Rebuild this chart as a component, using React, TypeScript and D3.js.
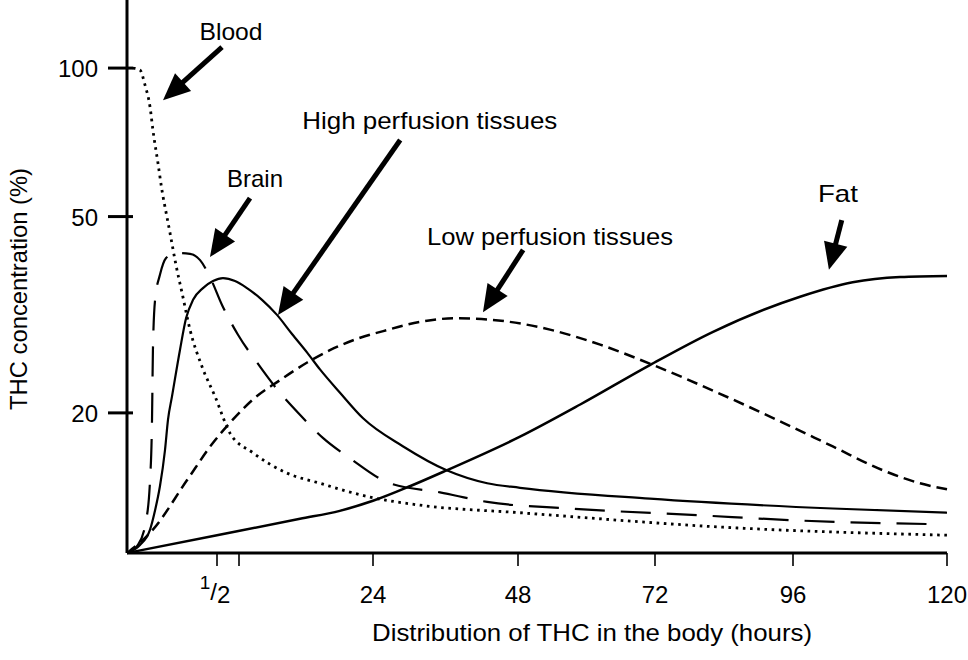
import React from 'react'
import * as d3 from 'd3'

// ---- data (hours, % of peak) ----
const xBreaks = [0, 0.5, 1, 24, 48, 72, 96, 120]
const xTicks = [0.5, 1, 24, 48, 72, 96, 120]
const xTickLabels = ['1/2', '', '24', '48', '72', '96', '120']
const yTicks = [20, 50, 100]
const yTickLabels = ['20', '50', '100']

const blood: [number, number][] = [
  [0.033, 100], [0.072, 99.1], [0.1, 92.4], [0.128, 83.4], [0.144, 74.9],
  [0.172, 64.2], [0.194, 56.6], [0.222, 49.9], [0.239, 46.3], [0.272, 39.9],
  [0.306, 35.0], [0.35, 29.5], [0.417, 24.8], [0.489, 21.6], [0.795, 18.2],
  [3.4, 16.6], [9.24, 15.1], [14.9, 14.4], [23.5, 13.5], [31.8, 13.0],
  [48.35, 12.55], [85.6, 11.7], [120, 11.3],
]

const brain: [number, number][] = [
  [0, 10.4], [0.061, 10.8], [0.106, 12.1], [0.128, 14.6], [0.139, 19.4],
  [0.144, 26.8], [0.156, 33.9], [0.183, 38.1], [0.217, 41.2], [0.267, 42.2],
  [0.35, 42.0], [0.406, 40.8], [0.461, 37.7], [0.614, 33.1], [0.977, 28.8],
  [4.09, 25.3], [7.18, 22.6], [11.5, 19.8], [15.4, 17.8], [20.0, 16.2],
  [26.8, 14.4], [35.1, 13.8], [42.9, 13.2], [57.1, 12.8], [79.8, 12.4],
  [97.1, 12.1], [117.8, 11.9],
]

const highPerfusion: [number, number][] = [
  [0, 10.4], [0.072, 10.8], [0.128, 11.6], [0.156, 12.7], [0.183, 14.2],
  [0.211, 16.8], [0.228, 19.4], [0.25, 21.6], [0.294, 26.8], [0.328, 31.1],
  [0.367, 33.9], [0.422, 35.8], [0.478, 37.0], [0.636, 37.5], [0.909, 37.0],
  [2.37, 35.8], [4.95, 33.9], [7.52, 31.6], [10.1, 28.9], [12.7, 26.5],
  [14.9, 24.5], [18.3, 22.0], [22.3, 19.5], [29.0, 17.1], [36.2, 15.3],
  [42.9, 14.4], [48.35, 14.1], [71.1, 13.4], [102.2, 12.8], [120, 12.55],
]

const lowPerfusion: [number, number][] = [
  [0, 10.4], [0.144, 11.6], [0.333, 14.6], [0.478, 17.4], [0.864, 19.4],
  [3.4, 21.3], [8.04, 23.3], [12.7, 25.3], [16.6, 26.8], [21.8, 28.4],
  [25.7, 29.3], [31.8, 30.6], [37.6, 31.1], [43.4, 30.9], [53.6, 29.5],
  [62.4, 27.5], [71.7, 25.0], [82.8, 22.0], [94.3, 19.1], [102.2, 17.1],
  [110.0, 15.3], [115.8, 14.4], [120, 14.0],
]

const fat: [number, number][] = [
  [0, 10.4], [0.5, 11.3], [11.47, 12.2], [18.3, 12.66], [24, 13.27],
  [30.1, 14.2], [36.2, 15.3], [48.35, 17.9], [58.9, 20.8], [71.1, 25.0],
  [82.1, 29.2], [97.1, 34.4], [105.3, 36.8], [112.7, 37.7], [120, 37.9],
]

// labels with their arrows, in data units: text anchor, arrow tail, arrow tip
const labels = ['Blood', 'Brain', 'High perfusion tissues', 'Low perfusion tissues', 'Fat']
const labelAt: [number, number][] = [[0.818, 113.9], [3.75, 57.4], [33.4, 75.2], [53.6, 43.8], [103.0, 53.5]]
const arrowTail: [number, number][] = [[0.614, 110.3], [2.89, 54.5], [28.5, 71.5], [48.9, 42.8], [103.6, 49.2]]
const arrowTip: [number, number][] = [[0.2, 86.1], [0.461, 41.4], [7.69, 31.6], [42.2, 32.0], [101.6, 39.0]]
const labelWidth = [63, 56, 255, 246, 40]

const W = 968
const H = 660
const FONT = '"Liberation Sans", Arial, Helvetica, sans-serif'

const x = d3.scaleLinear().domain(xBreaks).range([127, 217, 239, 373, 518, 655, 793, 947])
const y = d3.scaleLog().domain([10.4, 137.4]).range([553, 0])

const line = d3
  .line<[number, number]>()
  .x((d) => x(d[0]))
  .y((d) => y(d[1]))
  .curve(d3.curveMonotoneX)

const series = [
  { data: blood, width: 2.8, dash: '2.6 4.6' },
  { data: brain, width: 2.2, dash: '30 16' },
  { data: highPerfusion, width: 2.2, dash: null },
  { data: lowPerfusion, width: 2.5, dash: '11 6' },
  { data: fat, width: 2.5, dash: null },
]

function arrow(tail: [number, number], tip: [number, number]) {
  const x0 = x(tail[0])
  const y0 = y(tail[1])
  const x1 = x(tip[0])
  const y1 = y(tip[1])
  const len = Math.hypot(x1 - x0, y1 - y0)
  const ux = (x1 - x0) / len
  const uy = (y1 - y0) / len
  const headLen = 27
  const half = 12
  const bx = x1 - ux * headLen
  const by = y1 - uy * headLen
  return {
    shaft: { x1: x0, y1: y0, x2: bx + ux * 2, y2: by + uy * 2 },
    head: `M${x1},${y1}L${bx - uy * half},${by + ux * half}L${bx + uy * half},${by - ux * half}Z`,
  }
}

const App = () => {
  const y0 = y(10.4)
  return (
    <svg
      width={W}
      height={H}
      viewBox={`0 0 ${W} ${H}`}
      style={{ position: 'absolute', left: 0, top: 0, background: '#fff' }}
      fontFamily={FONT}
    >
      <rect width={W} height={H} fill="#fff" />

      {/* axes */}
      <line x1={x(0)} x2={x(0)} y1={y(137.4)} y2={y0} stroke="#000" strokeWidth={3} />
      <line x1={x(0)} x2={x(120)} y1={y0} y2={y0} stroke="#000" strokeWidth={3} />

      {yTicks.map((v, i) => (
        <g key={v}>
          <line x1={x(0) - 19} x2={x(0) + 6} y1={y(v)} y2={y(v)} stroke="#000" strokeWidth={3} />
          <text x={98} y={y(v) + 9} fontSize={24} textAnchor="end">
            {yTickLabels[i]}
          </text>
        </g>
      ))}

      {xTicks.map((v, i) => (
        <g key={v}>
          <line x1={x(v)} x2={x(v)} y1={y0} y2={y0 + 13} stroke="#000" strokeWidth={1.6} />
          {xTickLabels[i] === '1/2' ? (
            <text x={x(v) - 2} y={603} fontSize={24} textAnchor="middle">
              <tspan fontSize={19} dy={-14}>1</tspan>
              <tspan dy={11}>/</tspan>
              <tspan dy={3}>2</tspan>
            </text>
          ) : (
            <text x={x(v)} y={603} fontSize={24} textAnchor="middle">
              {xTickLabels[i]}
            </text>
          )}
        </g>
      ))}

      <text x={592} y={641} fontSize={24} textAnchor="middle" textLength={440} lengthAdjust="spacingAndGlyphs">
        Distribution of THC in the body (hours)
      </text>
      <text
        transform={`translate(27,289) rotate(-90)`}
        fontSize={24}
        textAnchor="middle"
        textLength={242}
        lengthAdjust="spacingAndGlyphs"
      >
        THC concentration (%)
      </text>

      {/* curves */}
      {series.map((s, i) => (
        <path
          key={i}
          d={line(s.data) ?? ''}
          fill="none"
          stroke="#000"
          strokeWidth={s.width}
          strokeDasharray={s.dash ?? undefined}
        />
      ))}

      {/* annotations */}
      {labels.map((t, i) => {
        const a = arrow(arrowTail[i], arrowTip[i])
        return (
          <g key={t}>
            <text
              x={x(labelAt[i][0])}
              y={y(labelAt[i][1])}
              fontSize={24}
              textAnchor="middle"
              textLength={labelWidth[i]}
              lengthAdjust="spacingAndGlyphs"
            >
              {t}
            </text>
            <line {...a.shaft} stroke="#000" strokeWidth={5} />
            <path d={a.head} fill="#000" />
          </g>
        )
      })}
    </svg>
  )
}

export default App
